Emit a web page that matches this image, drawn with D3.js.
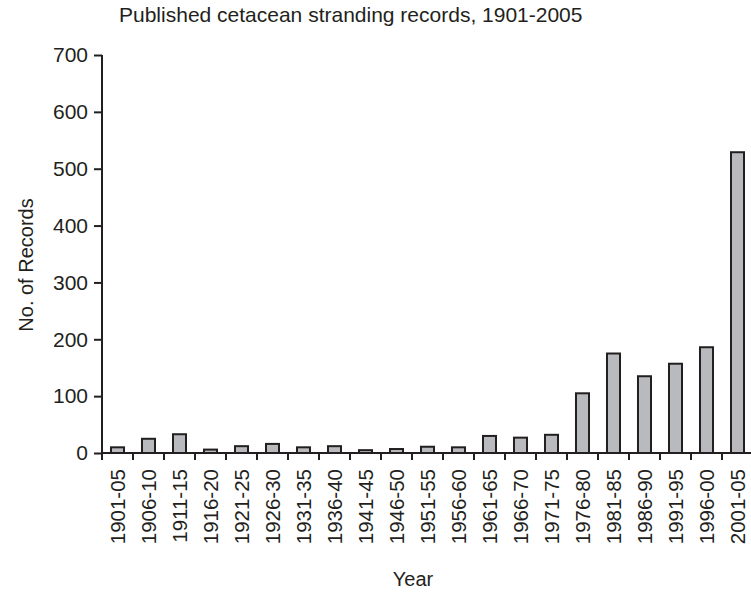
<!DOCTYPE html>
<html>
<head>
<meta charset="utf-8">
<script src="https://cdn.jsdelivr.net/npm/d3@7"></script>
<style>
  body { margin: 0; background: #fff; }
  text { font-family: "Liberation Sans", Arial, sans-serif; fill: #231f20; }
</style>
</head>
<body>
<div id="container"></div>
<script>
// data
var periods = ["1901-05", "1906-10", "1911-15", "1916-20", "1921-25", "1926-30", "1931-35",
  "1936-40", "1941-45", "1946-50", "1951-55", "1956-60", "1961-65", "1966-70", "1971-75",
  "1976-80", "1981-85", "1986-90", "1991-95", "1996-00", "2001-05"];
var records = [10, 25, 33, 6, 12, 16, 10, 12, 5, 7, 11, 10, 30, 27, 32, 105, 175, 135, 157, 186, 529];
var yTicks = [0, 100, 200, 300, 400, 500, 600, 700];

var width = 751, height = 592;
var ink = "#231f20";
var fs = "20px";

var svg = d3.select("div#container")
  .append("svg")
  .attr("width", width)
  .attr("height", height);

var x = d3.scaleBand().domain(periods).range([102, 753]).padding(0);
var y = d3.scaleLinear().domain([0, 700]).range([453, 55]);
var bw = x.bandwidth();

// title
svg.append("text").attr("x", 119).attr("y", 22)
  .style("font-size", "21px").text("Published cetacean stranding records, 1901-2005");

// bars
svg.selectAll("rect.bar").data(periods).enter().append("rect")
  .attr("class", "bar")
  .attr("x", function(d) { return x(d) + bw * 0.29; })
  .attr("width", bw * 0.42)
  .attr("y", function(d, i) { return y(records[i]); })
  .attr("height", function(d, i) { return y(0) - y(records[i]); })
  .style("fill", "#b9babd")
  .style("stroke", ink)
  .style("stroke-width", 2);

// y axis
var yAxis = svg.append("g").attr("transform", "translate(102,0)")
  .call(d3.axisLeft(y).tickValues(yTicks).tickSize(8).tickPadding(6));
yAxis.select(".domain").attr("d", "M0," + y(700) + "V" + (y(0) + 7));
yAxis.selectAll("text").style("font-size", "21px").style("fill", ink);

// x axis: labels centered, ticks at band boundaries
var xAxis = svg.append("g").attr("transform", "translate(0," + y(0) + ")")
  .call(d3.axisBottom(x).tickSize(0));
xAxis.select(".domain").attr("d", "M102,0H751");
xAxis.selectAll(".tick text")
  .attr("transform", "rotate(-90)")
  .attr("x", -16).attr("y", 0).attr("dy", "0.36em")
  .style("text-anchor", "end")
  .style("font-size", "20.5px").style("fill", ink);
xAxis.selectAll("line.sep").data(periods).enter().append("line")
  .attr("class", "sep")
  .attr("x1", function(d) { return x(d); }).attr("x2", function(d) { return x(d); })
  .attr("y1", 0).attr("y2", 7);

svg.selectAll(".domain, .tick line, line.sep")
  .style("stroke", ink).style("stroke-width", 2);

// axis titles
svg.append("text")
  .attr("transform", "translate(33,265) rotate(-90)")
  .style("text-anchor", "middle").style("font-size", fs).text("No. of Records");
svg.append("text").attr("x", 413).attr("y", 586)
  .style("text-anchor", "middle").style("font-size", fs).text("Year");
</script>
</body>
</html>
